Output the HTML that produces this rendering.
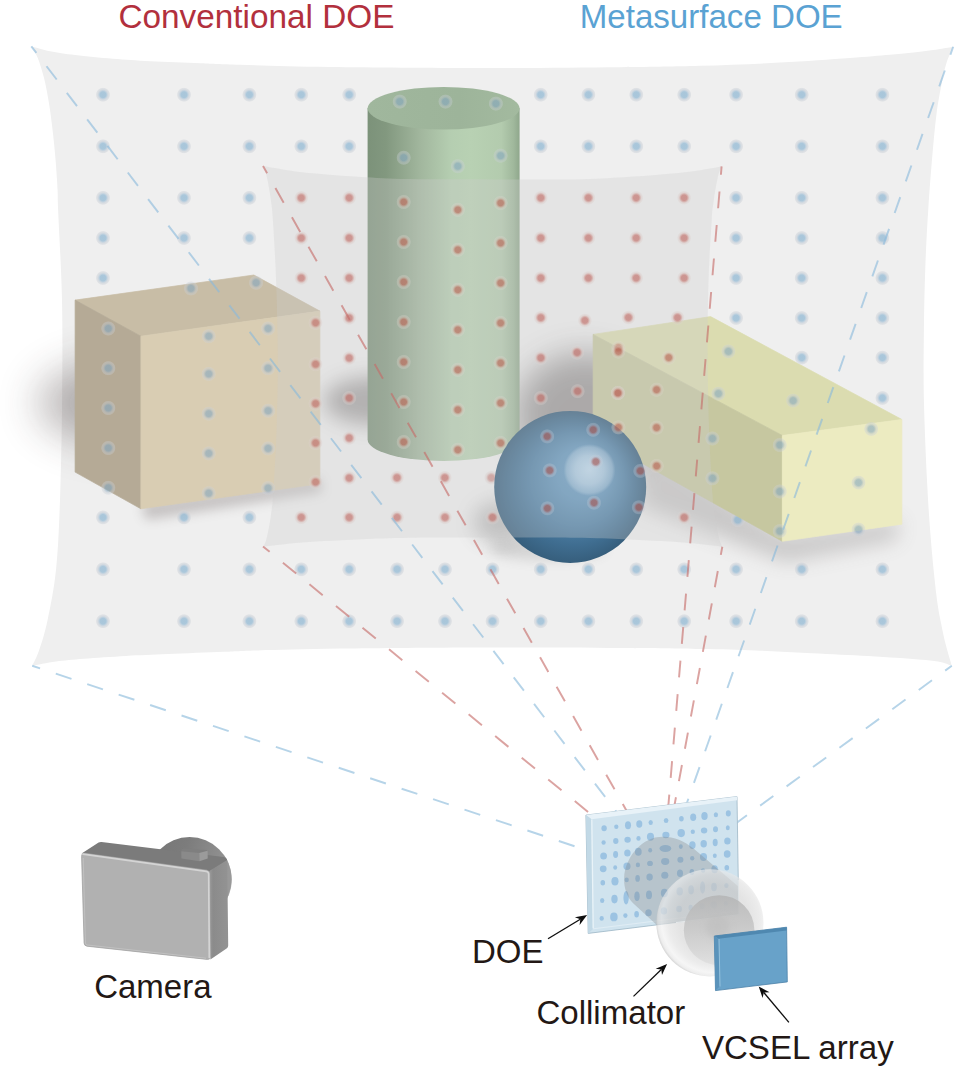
<!DOCTYPE html>
<html><head><meta charset="utf-8"><title>Structured light projection</title>
<style>
html,body{margin:0;padding:0;background:#fff;}
body{width:958px;height:1072px;overflow:hidden;font-family:"Liberation Sans",sans-serif;}
svg{display:block;position:absolute;left:0;top:0;}
text{font-family:"Liberation Sans",sans-serif;}
</style></head><body>
<svg width="958" height="1072" viewBox="0 0 958 1072">
<defs>
 <radialGradient id="gb"><stop offset="0" stop-color="#8db6d2" stop-opacity=".72"/><stop offset=".40" stop-color="#8db6d2" stop-opacity=".70"/><stop offset=".56" stop-color="#a9c2d6" stop-opacity=".62"/><stop offset=".70" stop-color="#c2cbd5" stop-opacity=".54"/><stop offset=".86" stop-color="#cbd1d8" stop-opacity=".46"/><stop offset=".94" stop-color="#d2d6dc" stop-opacity=".22"/><stop offset="1" stop-color="#dde1e6" stop-opacity="0"/></radialGradient>
 <radialGradient id="gr"><stop offset="0" stop-color="#c2726c" stop-opacity=".70"/><stop offset=".38" stop-color="#c2726c" stop-opacity=".68"/><stop offset=".56" stop-color="#d09c96" stop-opacity=".60"/><stop offset=".70" stop-color="#d8c0bc" stop-opacity=".42"/><stop offset=".86" stop-color="#dccecb" stop-opacity=".32"/><stop offset=".94" stop-color="#e2d8d6" stop-opacity=".15"/><stop offset="1" stop-color="#e8e4e4" stop-opacity="0"/></radialGradient>
 <radialGradient id="gbo"><stop offset="0" stop-color="#86a8c0" stop-opacity=".62"/><stop offset=".40" stop-color="#86a8c0" stop-opacity=".60"/><stop offset=".56" stop-color="#a4b8c8" stop-opacity=".52"/><stop offset=".70" stop-color="#c0c9d2" stop-opacity=".42"/><stop offset=".86" stop-color="#c8cfd7" stop-opacity=".36"/><stop offset=".94" stop-color="#d0d5db" stop-opacity=".18"/><stop offset="1" stop-color="#dde1e6" stop-opacity="0"/></radialGradient>
 <radialGradient id="gro"><stop offset="0" stop-color="#bb6c5c" stop-opacity=".70"/><stop offset=".38" stop-color="#bb6c5c" stop-opacity=".68"/><stop offset=".56" stop-color="#cc9a8c" stop-opacity=".54"/><stop offset=".70" stop-color="#d8c4ba" stop-opacity=".40"/><stop offset=".86" stop-color="#dcd0c8" stop-opacity=".32"/><stop offset=".94" stop-color="#e2dcd8" stop-opacity=".16"/><stop offset="1" stop-color="#e8e4e4" stop-opacity="0"/></radialGradient>
 <radialGradient id="grs"><stop offset="0" stop-color="#a85c58" stop-opacity=".66"/><stop offset=".38" stop-color="#a85c58" stop-opacity=".64"/><stop offset=".56" stop-color="#b48a90" stop-opacity=".50"/><stop offset=".70" stop-color="#c4c0cc" stop-opacity=".34"/><stop offset=".86" stop-color="#c8ccd6" stop-opacity=".28"/><stop offset=".94" stop-color="#d0d4dc" stop-opacity=".14"/><stop offset="1" stop-color="#dde1e6" stop-opacity="0"/></radialGradient>
 <circle id="rs" r="7.4" fill="url(#grs)"/>
 <circle id="bo" r="7.4" fill="url(#gbo)"/>
 <circle id="ro" r="7.4" fill="url(#gro)"/>
 <circle id="b" r="7.4" fill="url(#gb)"/>
 <circle id="r" r="7.4" fill="url(#gr)"/>
 <filter id="bl20" x="-60%" y="-100%" width="220%" height="300%"><feGaussianBlur stdDeviation="21"/></filter>
 <filter id="bl16" x="-60%" y="-60%" width="220%" height="220%"><feGaussianBlur stdDeviation="16"/></filter>
 <filter id="bl18" x="-60%" y="-80%" width="220%" height="260%"><feGaussianBlur stdDeviation="18"/></filter>
 <filter id="bl14" x="-50%" y="-50%" width="200%" height="200%"><feGaussianBlur stdDeviation="14"/></filter>
 <filter id="bl10" x="-50%" y="-50%" width="200%" height="200%"><feGaussianBlur stdDeviation="10"/></filter>
 <filter id="bl6" x="-50%" y="-50%" width="200%" height="200%"><feGaussianBlur stdDeviation="6"/></filter>
 <filter id="bl3" x="-50%" y="-50%" width="200%" height="200%"><feGaussianBlur stdDeviation="3"/></filter>
 <linearGradient id="cyl" x1="0" x2="1" y1="0" y2="0">
  <stop offset="0" stop-color="#7c927a"/><stop offset=".12" stop-color="#82987f"/><stop offset=".35" stop-color="#a2b79e"/><stop offset=".55" stop-color="#b5ceb1"/><stop offset=".68" stop-color="#b8d1b3"/><stop offset=".88" stop-color="#b3cbae"/><stop offset=".96" stop-color="#a0b89c"/><stop offset="1" stop-color="#8fa78c"/>
 </linearGradient>
 <linearGradient id="cyltop" x1="0" x2="1" y1="0" y2="0"><stop offset="0" stop-color="#a0b79d"/><stop offset=".6" stop-color="#9db49a"/><stop offset="1" stop-color="#a3ba9f"/></linearGradient>
 <radialGradient id="sph" cx="570" cy="487" r="76" fx="590" fy="466" gradientUnits="userSpaceOnUse">
  <stop offset="0" stop-color="#6fa3c9"/><stop offset=".35" stop-color="#6094bb"/><stop offset=".62" stop-color="#4d7fa5"/><stop offset=".82" stop-color="#3f6d90"/><stop offset="1" stop-color="#365e7c"/>
 </radialGradient>
 <radialGradient id="sphhl" cx="589.5" cy="470" r="26" gradientUnits="userSpaceOnUse">
  <stop offset="0" stop-color="#fff" stop-opacity=".46"/><stop offset=".55" stop-color="#fff" stop-opacity=".36"/><stop offset=".88" stop-color="#fff" stop-opacity=".2"/><stop offset="1" stop-color="#fff" stop-opacity="0"/>
 </radialGradient>
 <linearGradient id="camlens" x1="0" x2="1" y1="0" y2="0.3"><stop offset="0" stop-color="#767676"/><stop offset=".45" stop-color="#7c7c7c"/><stop offset=".8" stop-color="#8c8c8c"/><stop offset="1" stop-color="#969696"/></linearGradient>
 <linearGradient id="camside" x1="0" x2="1" y1="0" y2="0"><stop offset="0" stop-color="#9a9a9a"/><stop offset=".2" stop-color="#8b8b8b"/><stop offset="1" stop-color="#939393"/></linearGradient>
 <clipPath id="cpPlate"><polygon points="585.9,815.1 737,796.6 738.8,914.7 588.2,933.4"/></clipPath>
 <clipPath id="cpOuter"><path d="M31.3,46.3 C34.4,47.1 42.8,49.8 50.1,51.3 C57.4,52.8 64.8,53.9 75.2,55.1 C85.7,56.4 100.3,57.8 112.8,58.8 C125.3,59.8 135.8,60.5 150.4,61.3 C165.0,62.0 185.6,62.7 200.5,63.3 C215.4,63.9 218.4,64.2 240.0,64.8 C261.6,65.4 290.0,66.5 330.0,67.0 C370.0,67.5 431.7,68.0 480.0,68.0 C528.3,68.0 583.3,67.6 620.0,67.2 C656.7,66.8 673.3,66.6 700.0,65.8 C726.7,65.0 755.0,63.9 780.0,62.6 C805.0,61.3 831.7,59.3 850.0,58.0 C868.3,56.7 878.3,55.8 890.0,54.8 C901.7,53.8 911.7,52.8 920.0,51.8 C928.3,50.8 934.5,49.8 940.0,49.0 C945.5,48.2 951.0,47.2 953.2,46.8 C952.1,49.6 948.3,57.1 946.3,63.6 C944.3,70.1 942.8,77.6 941.2,86.0 C939.6,94.4 938.0,102.2 936.5,113.9 C935.0,125.6 933.7,139.6 932.3,155.9 C930.9,172.2 929.3,193.2 928.1,211.9 C926.9,230.6 926.0,248.2 925.3,267.9 C924.6,287.6 924.1,308.0 923.9,330.0 C923.7,352.0 923.3,374.3 923.9,400.0 C924.5,425.7 926.0,460.7 927.2,484.0 C928.4,507.3 929.4,521.4 930.9,540.0 C932.4,558.6 934.8,581.9 936.5,595.9 C938.2,609.9 939.6,615.5 941.2,623.9 C942.8,632.3 944.4,639.3 946.2,646.3 C948.0,653.3 950.9,662.5 951.8,665.8 C949.5,665.1 944.9,662.8 937.9,661.6 C930.9,660.4 921.6,659.7 909.9,658.8 C898.2,657.9 884.2,656.9 867.9,656.0 C851.6,655.1 830.5,654.1 811.9,653.2 C793.2,652.3 774.6,651.1 756.0,650.4 C737.4,649.7 722.7,649.4 700.0,649.0 C677.3,648.6 656.7,648.2 620.0,648.0 C583.3,647.8 526.7,647.4 480.0,647.5 C433.3,647.6 377.0,648.1 340.0,648.6 C303.0,649.1 277.4,649.9 258.0,650.4 C238.7,650.9 238.9,651.2 223.9,651.8 C208.9,652.4 184.2,653.4 167.9,654.1 C151.6,654.8 139.9,655.2 125.9,656.0 C111.9,656.8 95.6,657.9 83.9,658.8 C72.2,659.7 64.6,660.4 56.0,661.6 C47.4,662.8 36.2,665.1 32.2,665.8 C33.4,663.2 36.6,657.6 39.2,650.0 C41.8,642.4 44.8,633.3 47.6,620.0 C50.4,606.7 53.9,590.0 56.0,570.0 C58.1,550.0 59.0,528.3 60.0,500.0 C61.0,471.7 61.8,433.3 62.1,400.0 C62.4,366.7 62.7,331.8 62.0,300.0 C61.3,268.2 58.8,227.5 58.1,209.2 C57.4,190.9 58.0,198.6 57.6,190.4 C57.2,182.2 56.4,170.3 55.6,160.3 C54.8,150.3 53.7,139.9 52.6,130.3 C51.5,120.7 50.4,111.5 48.9,102.7 C47.4,93.9 45.8,85.1 43.9,77.6 C42.0,70.1 39.7,62.8 37.6,57.6 C35.5,52.4 32.4,48.2 31.3,46.3 Z"/></clipPath>
 <clipPath id="cpInner"><path d="M263,166 C264.9,166.4 269.3,167.2 274.7,168.1 C280.1,169.1 287.2,170.4 295.4,171.4 C303.5,172.4 312.6,173.2 323.6,174.2 C334.6,175.1 346.9,176.1 361.2,176.9 C375.5,177.7 387.8,178.6 409.6,179.0 C431.5,179.4 464.7,179.3 492.3,179.4 C519.9,179.5 553.1,179.8 575.0,179.4 C596.9,179.1 609.1,178.1 623.4,177.3 C637.7,176.5 650.0,175.5 661.0,174.6 C672.0,173.6 681.1,172.8 689.2,171.8 C697.4,170.8 704.5,169.5 709.9,168.5 C715.3,167.6 719.6,166.8 721.6,166.4 C721.2,167.3 720.0,169.6 719.3,171.7 C718.6,173.8 718.1,176.1 717.4,179.2 C716.7,182.3 715.9,186.4 715.2,190.5 C714.5,194.6 713.9,199.0 713.3,203.7 C712.7,208.4 712.6,205.8 711.8,218.7 C711.0,231.6 709.2,258.0 708.5,281.0 C707.8,304.0 707.5,331.4 707.6,356.6 C707.7,381.8 708.4,409.2 709.2,432.2 C710.0,455.2 711.7,481.6 712.5,494.5 C713.3,507.4 713.4,504.8 714.0,509.5 C714.6,514.2 715.2,518.6 715.9,522.7 C716.6,526.8 717.4,530.9 718.1,534.0 C718.8,537.1 719.3,539.4 720.0,541.5 C720.7,543.6 721.9,545.9 722.3,546.8 C720.3,546.5 716.0,545.9 710.6,545.3 C705.2,544.7 698.0,543.7 689.9,543.0 C681.8,542.3 672.7,541.7 661.7,541.1 C650.7,540.5 638.4,539.8 624.1,539.2 C609.8,538.6 597.6,538.0 575.7,537.7 C553.8,537.4 520.4,537.5 492.8,537.5 C465.2,537.5 431.9,537.4 410.0,537.7 C388.1,538.0 375.9,538.6 361.6,539.2 C347.3,539.8 335.0,540.5 324.0,541.1 C313.0,541.7 303.9,542.3 295.8,543.0 C287.6,543.7 280.5,544.7 275.1,545.3 C269.7,545.9 265.3,546.5 263.4,546.8 C263.8,545.9 265.0,543.6 265.7,541.5 C266.4,539.4 266.9,537.1 267.6,534.0 C268.3,530.9 269.1,526.8 269.8,522.7 C270.5,518.6 271.1,514.2 271.7,509.5 C272.3,504.8 272.4,507.4 273.2,494.5 C274.0,481.6 275.7,455.2 276.5,432.2 C277.3,409.2 277.9,381.7 277.8,356.4 C277.7,331.1 276.9,303.6 276.1,280.6 C275.3,257.6 273.6,231.2 272.8,218.3 C272.0,205.4 271.9,208.0 271.3,203.3 C270.7,198.6 270.1,194.2 269.4,190.1 C268.7,186.0 267.9,181.9 267.2,178.8 C266.5,175.7 266.0,173.4 265.3,171.3 C264.6,169.2 263.4,166.9 263.0,166.0 Z"/></clipPath>
 <clipPath id="cpRays"><path clip-rule="evenodd" d="M0,0H958V1072H0Z M585.9,815.1 L737,796.6 L738.8,914.7 L588.2,933.4Z"/></clipPath>
 <clipPath id="cpSphere"><circle cx="570.2" cy="486.9" r="76"/></clipPath>
 <radialGradient id="lensO" cx="714" cy="920" r="58.5" gradientUnits="userSpaceOnUse"><stop offset="0" stop-color="#d8d8d8"/><stop offset=".6" stop-color="#d4d4d4"/><stop offset=".78" stop-color="#e0e0e0"/><stop offset=".9" stop-color="#f0f0f0"/><stop offset=".96" stop-color="#e4e4e4"/><stop offset="1" stop-color="#bdbdbd"/></radialGradient>
 <linearGradient id="lensI" x1="0" x2="0" y1="0" y2="1"><stop offset="0" stop-color="#b2b2b2"/><stop offset=".45" stop-color="#c2c2c2"/><stop offset="1" stop-color="#dedede"/></linearGradient>
</defs>

<rect width="958" height="1072" fill="#fff"/>

<!-- outer projection screen -->
<path d="M31.3,46.3 C34.4,47.1 42.8,49.8 50.1,51.3 C57.4,52.8 64.8,53.9 75.2,55.1 C85.7,56.4 100.3,57.8 112.8,58.8 C125.3,59.8 135.8,60.5 150.4,61.3 C165.0,62.0 185.6,62.7 200.5,63.3 C215.4,63.9 218.4,64.2 240.0,64.8 C261.6,65.4 290.0,66.5 330.0,67.0 C370.0,67.5 431.7,68.0 480.0,68.0 C528.3,68.0 583.3,67.6 620.0,67.2 C656.7,66.8 673.3,66.6 700.0,65.8 C726.7,65.0 755.0,63.9 780.0,62.6 C805.0,61.3 831.7,59.3 850.0,58.0 C868.3,56.7 878.3,55.8 890.0,54.8 C901.7,53.8 911.7,52.8 920.0,51.8 C928.3,50.8 934.5,49.8 940.0,49.0 C945.5,48.2 951.0,47.2 953.2,46.8 C952.1,49.6 948.3,57.1 946.3,63.6 C944.3,70.1 942.8,77.6 941.2,86.0 C939.6,94.4 938.0,102.2 936.5,113.9 C935.0,125.6 933.7,139.6 932.3,155.9 C930.9,172.2 929.3,193.2 928.1,211.9 C926.9,230.6 926.0,248.2 925.3,267.9 C924.6,287.6 924.1,308.0 923.9,330.0 C923.7,352.0 923.3,374.3 923.9,400.0 C924.5,425.7 926.0,460.7 927.2,484.0 C928.4,507.3 929.4,521.4 930.9,540.0 C932.4,558.6 934.8,581.9 936.5,595.9 C938.2,609.9 939.6,615.5 941.2,623.9 C942.8,632.3 944.4,639.3 946.2,646.3 C948.0,653.3 950.9,662.5 951.8,665.8 C949.5,665.1 944.9,662.8 937.9,661.6 C930.9,660.4 921.6,659.7 909.9,658.8 C898.2,657.9 884.2,656.9 867.9,656.0 C851.6,655.1 830.5,654.1 811.9,653.2 C793.2,652.3 774.6,651.1 756.0,650.4 C737.4,649.7 722.7,649.4 700.0,649.0 C677.3,648.6 656.7,648.2 620.0,648.0 C583.3,647.8 526.7,647.4 480.0,647.5 C433.3,647.6 377.0,648.1 340.0,648.6 C303.0,649.1 277.4,649.9 258.0,650.4 C238.7,650.9 238.9,651.2 223.9,651.8 C208.9,652.4 184.2,653.4 167.9,654.1 C151.6,654.8 139.9,655.2 125.9,656.0 C111.9,656.8 95.6,657.9 83.9,658.8 C72.2,659.7 64.6,660.4 56.0,661.6 C47.4,662.8 36.2,665.1 32.2,665.8 C33.4,663.2 36.6,657.6 39.2,650.0 C41.8,642.4 44.8,633.3 47.6,620.0 C50.4,606.7 53.9,590.0 56.0,570.0 C58.1,550.0 59.0,528.3 60.0,500.0 C61.0,471.7 61.8,433.3 62.1,400.0 C62.4,366.7 62.7,331.8 62.0,300.0 C61.3,268.2 58.8,227.5 58.1,209.2 C57.4,190.9 58.0,198.6 57.6,190.4 C57.2,182.2 56.4,170.3 55.6,160.3 C54.8,150.3 53.7,139.9 52.6,130.3 C51.5,120.7 50.4,111.5 48.9,102.7 C47.4,93.9 45.8,85.1 43.9,77.6 C42.0,70.1 39.7,62.8 37.6,57.6 C35.5,52.4 32.4,48.2 31.3,46.3 Z" fill="#efefef"/>

<!-- wall shadows -->
<g id="shadows">
 <ellipse cx="130" cy="403" rx="92" ry="42" fill="#3c3232" opacity=".36" filter="url(#bl20)"/>
 <path d="M141,503 L320,478 L322,492 L146,520Z" fill="#5a5050" opacity=".28" filter="url(#bl6)"/>
 <ellipse cx="376" cy="401" rx="52" ry="24" fill="#3a3434" opacity=".40" filter="url(#bl10)"/>
 <ellipse cx="585" cy="415" rx="70" ry="62" fill="#3a3434" opacity=".46" filter="url(#bl16)"/>
 <path d="M640,440 L784,536 L900,520 L896,540 L786,562 L640,506Z" fill="#5a5555" opacity=".25" filter="url(#bl10)"/>
 <ellipse cx="500" cy="522" rx="26" ry="20" fill="#444" opacity=".30" filter="url(#bl10)"/>
 <ellipse cx="548" cy="549" rx="58" ry="12" fill="#555" opacity=".16" filter="url(#bl6)"/>
</g>

<!-- blue dots on screen hidden partly by objects -->
<use href="#b" x="737.8" y="519.9"/>

<!-- objects -->
<g id="box">
 <polygon points="75.1,300.1 253.8,275 319.9,311.1 140.9,336.2" fill="#c8bda6" stroke="#c8bda6" stroke-width=".7" stroke-linejoin="round"/>
 <polygon points="75.1,300.1 140.9,336.2 140.9,508.8 75.1,472.1" fill="#b5aa96" stroke="#b5aa96" stroke-width=".7" stroke-linejoin="round"/>
 <polygon points="140.9,336.2 319.9,311.1 319.9,483.8 140.9,508.8" fill="#d9cdb3" stroke="#d9cdb3" stroke-width=".7" stroke-linejoin="round"/>
</g>
<g id="cylinder">
 <path d="M367.6,108.3 V439.6 A76,21.3 0 0 0 519.6,439.6 V108.3 Z" fill="url(#cyl)"/>
 <ellipse cx="443.6" cy="108.3" rx="76" ry="21.3" fill="url(#cyltop)"/>
</g>
<g id="cuboid">
 <polygon points="593.1,334.4 710.6,316.6 901.9,419.5 782.3,435.5" fill="#dbdcb0" stroke="#dbdcb0" stroke-width=".7" stroke-linejoin="round"/>
 <polygon points="593.1,334.4 782.3,435.5 782.3,541.3 593.1,436" fill="#c6c7a0" stroke="#c6c7a0" stroke-width=".7" stroke-linejoin="round"/>
 <polygon points="782.3,435.5 901.9,419.5 901.9,524.2 782.3,541.3" fill="#ecebc1" stroke="#ecebc1" stroke-width=".7" stroke-linejoin="round"/>
</g>
<g id="sphere">
 <use href="#r" x="491.3" y="477.7"/><use href="#r" x="618.0" y="393.0"/>
 <circle cx="570.2" cy="486.9" r="76" fill="url(#sph)"/>
</g>

<!-- inner (conventional DOE) field: translucent overlay -->
<path d="M263,166 C264.9,166.4 269.3,167.2 274.7,168.1 C280.1,169.1 287.2,170.4 295.4,171.4 C303.5,172.4 312.6,173.2 323.6,174.2 C334.6,175.1 346.9,176.1 361.2,176.9 C375.5,177.7 387.8,178.6 409.6,179.0 C431.5,179.4 464.7,179.3 492.3,179.4 C519.9,179.5 553.1,179.8 575.0,179.4 C596.9,179.1 609.1,178.1 623.4,177.3 C637.7,176.5 650.0,175.5 661.0,174.6 C672.0,173.6 681.1,172.8 689.2,171.8 C697.4,170.8 704.5,169.5 709.9,168.5 C715.3,167.6 719.6,166.8 721.6,166.4 C721.2,167.3 720.0,169.6 719.3,171.7 C718.6,173.8 718.1,176.1 717.4,179.2 C716.7,182.3 715.9,186.4 715.2,190.5 C714.5,194.6 713.9,199.0 713.3,203.7 C712.7,208.4 712.6,205.8 711.8,218.7 C711.0,231.6 709.2,258.0 708.5,281.0 C707.8,304.0 707.5,331.4 707.6,356.6 C707.7,381.8 708.4,409.2 709.2,432.2 C710.0,455.2 711.7,481.6 712.5,494.5 C713.3,507.4 713.4,504.8 714.0,509.5 C714.6,514.2 715.2,518.6 715.9,522.7 C716.6,526.8 717.4,530.9 718.1,534.0 C718.8,537.1 719.3,539.4 720.0,541.5 C720.7,543.6 721.9,545.9 722.3,546.8 C720.3,546.5 716.0,545.9 710.6,545.3 C705.2,544.7 698.0,543.7 689.9,543.0 C681.8,542.3 672.7,541.7 661.7,541.1 C650.7,540.5 638.4,539.8 624.1,539.2 C609.8,538.6 597.6,538.0 575.7,537.7 C553.8,537.4 520.4,537.5 492.8,537.5 C465.2,537.5 431.9,537.4 410.0,537.7 C388.1,538.0 375.9,538.6 361.6,539.2 C347.3,539.8 335.0,540.5 324.0,541.1 C313.0,541.7 303.9,542.3 295.8,543.0 C287.6,543.7 280.5,544.7 275.1,545.3 C269.7,545.9 265.3,546.5 263.4,546.8 C263.8,545.9 265.0,543.6 265.7,541.5 C266.4,539.4 266.9,537.1 267.6,534.0 C268.3,530.9 269.1,526.8 269.8,522.7 C270.5,518.6 271.1,514.2 271.7,509.5 C272.3,504.8 272.4,507.4 273.2,494.5 C274.0,481.6 275.7,455.2 276.5,432.2 C277.3,409.2 277.9,381.7 277.8,356.4 C277.7,331.1 276.9,303.6 276.1,280.6 C275.3,257.6 273.6,231.2 272.8,218.3 C272.0,205.4 271.9,208.0 271.3,203.3 C270.7,198.6 270.1,194.2 269.4,190.1 C268.7,186.0 267.9,181.9 267.2,178.8 C266.5,175.7 266.0,173.4 265.3,171.3 C264.6,169.2 263.4,166.9 263.0,166.0 Z" fill="#cdcdcd" fill-opacity=".32"/>
<circle cx="589.5" cy="470" r="27" fill="url(#sphhl)"/>

<!-- dots -->
<g id="bluedots"><use href="#b" x="103.0" y="94.7"/><use href="#b" x="184.0" y="94.7"/><use href="#b" x="249.4" y="94.7"/><use href="#b" x="301.3" y="94.7"/><use href="#b" x="349.2" y="94.7"/><use href="#b" x="540.7" y="94.7"/><use href="#b" x="588.4" y="94.7"/><use href="#b" x="636.3" y="94.7"/><use href="#b" x="684.2" y="94.7"/><use href="#b" x="736.1" y="94.7"/><use href="#b" x="801.7" y="94.7"/><use href="#b" x="882.4" y="94.7"/><use href="#b" x="103.0" y="146.3"/><use href="#b" x="184.0" y="146.3"/><use href="#b" x="249.4" y="146.3"/><use href="#b" x="301.3" y="146.3"/><use href="#b" x="349.2" y="146.3"/><use href="#b" x="540.7" y="146.3"/><use href="#b" x="588.4" y="146.3"/><use href="#b" x="636.3" y="146.3"/><use href="#b" x="684.2" y="146.3"/><use href="#b" x="736.1" y="146.3"/><use href="#b" x="801.7" y="146.3"/><use href="#b" x="882.4" y="146.3"/><use href="#b" x="103.0" y="197.8"/><use href="#b" x="184.0" y="197.8"/><use href="#b" x="249.4" y="197.8"/><use href="#b" x="103.0" y="238.0"/><use href="#b" x="184.0" y="238.0"/><use href="#b" x="249.4" y="238.0"/><use href="#b" x="103.0" y="278.0"/><use href="#b" x="103.0" y="517.4"/><use href="#b" x="184.0" y="517.4"/><use href="#b" x="249.4" y="517.4"/><use href="#b" x="103.0" y="569.3"/><use href="#b" x="184.0" y="569.3"/><use href="#b" x="249.4" y="569.3"/><use href="#b" x="301.3" y="569.3"/><use href="#b" x="349.2" y="569.3"/><use href="#b" x="397.1" y="569.3"/><use href="#b" x="445.0" y="569.3"/><use href="#b" x="492.5" y="569.3"/><use href="#b" x="540.7" y="569.3"/><use href="#b" x="588.4" y="569.3"/><use href="#b" x="636.3" y="569.3"/><use href="#b" x="684.2" y="569.3"/><use href="#b" x="736.1" y="569.3"/><use href="#b" x="801.7" y="569.3"/><use href="#b" x="882.4" y="569.3"/><use href="#b" x="103.0" y="621.2"/><use href="#b" x="184.0" y="621.2"/><use href="#b" x="249.4" y="621.2"/><use href="#b" x="301.3" y="621.2"/><use href="#b" x="349.2" y="621.2"/><use href="#b" x="397.1" y="621.2"/><use href="#b" x="445.0" y="621.2"/><use href="#b" x="492.5" y="621.2"/><use href="#b" x="540.7" y="621.2"/><use href="#b" x="588.4" y="621.2"/><use href="#b" x="636.3" y="621.2"/><use href="#b" x="684.2" y="621.2"/><use href="#b" x="736.1" y="621.2"/><use href="#b" x="801.7" y="621.2"/><use href="#b" x="882.4" y="621.2"/><use href="#b" x="736.1" y="197.8"/><use href="#b" x="801.7" y="197.8"/><use href="#b" x="882.4" y="197.8"/><use href="#b" x="736.1" y="238.0"/><use href="#b" x="801.7" y="238.0"/><use href="#b" x="882.4" y="238.0"/><use href="#b" x="736.1" y="278.0"/><use href="#b" x="801.7" y="278.0"/><use href="#b" x="882.4" y="278.0"/><use href="#b" x="736.1" y="318.0"/><use href="#b" x="801.7" y="318.0"/><use href="#b" x="882.4" y="318.0"/><use href="#b" x="801.8" y="357.6"/><use href="#b" x="882.4" y="357.6"/><use href="#b" x="882.4" y="398.0"/><use href="#bo" x="191.0" y="288.4"/><use href="#bo" x="256.1" y="282.7"/><use href="#bo" x="108.3" y="328.5"/><use href="#bo" x="108.3" y="368.2"/><use href="#bo" x="108.3" y="408.0"/><use href="#bo" x="108.3" y="448.0"/><use href="#bo" x="108.3" y="487.8"/><use href="#bo" x="208.7" y="336.2"/><use href="#bo" x="208.7" y="373.9"/><use href="#bo" x="208.7" y="413.7"/><use href="#bo" x="208.7" y="453.4"/><use href="#bo" x="208.7" y="493.2"/><use href="#bo" x="268.1" y="328.5"/><use href="#bo" x="268.1" y="368.2"/><use href="#bo" x="268.1" y="410.7"/><use href="#bo" x="268.1" y="448.4"/><use href="#bo" x="268.1" y="488.1"/><use href="#bo" x="399.7" y="101.6"/><use href="#bo" x="445.5" y="101.6"/><use href="#bo" x="495.9" y="103.6"/><use href="#bo" x="403.7" y="157.7"/><use href="#bo" x="457.8" y="166.2"/><use href="#bo" x="500.6" y="155.7"/><use href="#bo" x="728.4" y="351.4"/><use href="#bo" x="718.4" y="393.6"/><use href="#bo" x="793.1" y="400.6"/><use href="#bo" x="712.4" y="438.5"/><use href="#bo" x="712.4" y="478.3"/><use href="#bo" x="779.8" y="445.0"/><use href="#bo" x="779.8" y="491.5"/><use href="#bo" x="779.8" y="531.1"/><use href="#bo" x="871.2" y="429.0"/><use href="#bo" x="858.5" y="482.6"/><use href="#bo" x="858.5" y="529.5"/></g>
<g id="reddots"><use href="#r" x="301.3" y="197.8"/><use href="#r" x="301.3" y="238.0"/><use href="#r" x="301.3" y="278.0"/><use href="#r" x="315.6" y="322.8"/><use href="#r" x="315.6" y="364.2"/><use href="#r" x="315.6" y="403.6"/><use href="#r" x="315.6" y="443.0"/><use href="#r" x="315.6" y="482.1"/><use href="#r" x="301.3" y="517.4"/><use href="#r" x="349.2" y="197.8"/><use href="#r" x="349.2" y="238.0"/><use href="#r" x="349.2" y="278.0"/><use href="#r" x="349.2" y="318.0"/><use href="#r" x="349.2" y="358.0"/><use href="#r" x="349.2" y="398.0"/><use href="#r" x="349.2" y="438.0"/><use href="#r" x="349.2" y="478.0"/><use href="#r" x="349.2" y="517.4"/><use href="#r" x="397.0" y="477.7"/><use href="#r" x="444.8" y="477.7"/><use href="#r" x="397.1" y="517.4"/><use href="#r" x="445.0" y="517.4"/><use href="#r" x="492.5" y="517.4"/><use href="#r" x="684.2" y="517.5"/><use href="#r" x="540.8" y="197.8"/><use href="#r" x="588.4" y="197.8"/><use href="#r" x="636.2" y="197.8"/><use href="#r" x="684.1" y="197.8"/><use href="#r" x="540.8" y="238.0"/><use href="#r" x="588.4" y="238.0"/><use href="#r" x="636.2" y="238.0"/><use href="#r" x="684.1" y="238.0"/><use href="#r" x="540.8" y="278.0"/><use href="#r" x="588.4" y="278.0"/><use href="#r" x="636.2" y="278.0"/><use href="#r" x="684.1" y="278.0"/><use href="#r" x="540.8" y="317.7"/><use href="#r" x="584.9" y="320.5"/><use href="#r" x="628.4" y="317.5"/><use href="#r" x="677.5" y="317.6"/><use href="#r" x="540.8" y="357.8"/><use href="#r" x="577.1" y="352.5"/><use href="#r" x="540.8" y="398.0"/><use href="#r" x="577.6" y="391.2"/><use href="#ro" x="403.7" y="202.0"/><use href="#ro" x="457.8" y="209.8"/><use href="#ro" x="500.6" y="203.0"/><use href="#ro" x="403.7" y="242.0"/><use href="#ro" x="457.8" y="249.8"/><use href="#ro" x="500.6" y="243.0"/><use href="#ro" x="403.7" y="282.0"/><use href="#ro" x="457.8" y="289.8"/><use href="#ro" x="500.6" y="283.0"/><use href="#ro" x="403.7" y="322.0"/><use href="#ro" x="457.8" y="329.8"/><use href="#ro" x="500.6" y="323.0"/><use href="#ro" x="403.7" y="362.0"/><use href="#ro" x="457.8" y="369.8"/><use href="#ro" x="500.6" y="363.0"/><use href="#ro" x="403.7" y="402.0"/><use href="#ro" x="457.8" y="409.8"/><use href="#ro" x="500.6" y="403.0"/><use href="#ro" x="403.7" y="442.0"/><use href="#ro" x="457.8" y="449.8"/><use href="#ro" x="500.6" y="443.0"/><use href="#ro" x="618.4" y="348.0"/><use href="#ro" x="618.4" y="351.6"/><use href="#ro" x="668.7" y="357.6"/><use href="#ro" x="617.9" y="393.0"/><use href="#ro" x="656.6" y="389.7"/><use href="#ro" x="656.6" y="427.6"/><use href="#ro" x="656.7" y="466.0"/><use href="#ro" x="618.4" y="427.4"/><use href="#rs" x="547.2" y="436.4"/><use href="#rs" x="593.2" y="429.8"/><use href="#rs" x="549.7" y="470.4"/><use href="#rs" x="595.8" y="461.7"/><use href="#rs" x="640.3" y="470.9"/><use href="#rs" x="547.4" y="508.3"/><use href="#rs" x="594.0" y="502.7"/><use href="#rs" x="638.8" y="507.3"/></g>

<!-- rays -->
<g fill="none" stroke-width="1.95" clip-path="url(#cpRays)" opacity=".62">
 <line x1="31.3" y1="46.3" x2="661.0" y2="870.0" stroke="#8abadb" stroke-dasharray="16.723 16.723" stroke-dashoffset="8.361"/>
 <line x1="953.2" y1="46.8" x2="663.3" y2="870.0" stroke="#8abadb" stroke-dasharray="16.784 16.784" stroke-dashoffset="8.392"/>
 <line x1="32.2" y1="665.8" x2="661.0" y2="875.0" stroke="#8abadb" stroke-dasharray="16.567 16.567" stroke-dashoffset="8.284"/>
 <line x1="951.8" y1="665.8" x2="661.0" y2="878.0" stroke="#8abadb" stroke-dasharray="16.363 16.363" stroke-dashoffset="8.182"/>
 <line x1="263.0" y1="166.0" x2="660.0" y2="870.0" stroke="#c66c69" stroke-dasharray="16.838 16.838" stroke-dashoffset="8.419"/>
 <line x1="721.6" y1="166.4" x2="663.0" y2="870.0" stroke="#c66c69" stroke-dasharray="16.810 16.810" stroke-dashoffset="8.405"/>
 <line x1="263.0" y1="546.4" x2="661.0" y2="871.5" stroke="#c66c69" stroke-dasharray="17.130 17.130" stroke-dashoffset="8.565"/>
 <line x1="722.3" y1="546.8" x2="662.5" y2="870.0" stroke="#c66c69" stroke-dasharray="16.434 16.434" stroke-dashoffset="8.217"/>
</g>

<!-- titles -->
<text x="118.4" y="28.2" font-size="33.35" fill="#b2303d">Conventional DOE</text>
<text x="579.8" y="28.2" font-size="33.1" fill="#5aa2d3">Metasurface DOE</text>

<!-- camera -->
<g id="camera">
 <circle cx="189.6" cy="879.1" r="42" fill="url(#camlens)"/>
 <path d="M222,852.5 A42,42 0 0 1 226.5,900 L226.5,861 Z" fill="#9a9a9a" opacity=".7"/>
 <path d="M81.6,853.6 L98.6,842.6 Q100,841.8 101.6,842 L223.5,856.9 Q227,857.6 227.2,860.4 L209.5,871.8 Z" fill="#7b7b7b"/>
 <path d="M209.3,871.1 L227.2,860 L228.2,945.6 Q228.2,947.6 226.6,948.6 L210.4,959.4 Z" fill="url(#camside)"/>
 <path d="M84.8,853.3 L206.6,870.2 Q209.6,870.7 209.7,873.6 L210.4,956.6 Q210.4,959.8 207.2,959.4 L87,946.2 Q84.2,945.8 84.1,943 L81.6,856.2 Q81.5,852.8 84.8,853.3Z" fill="#b1b1b1" stroke="#a2a2a2" stroke-width=".8"/>
 <path d="M83,854.2 L206.2,871.3 Q208.6,871.7 208.7,874 L209.3,957.5" fill="none" stroke="#d4d4d4" stroke-width="1.7" stroke-linecap="round"/>
 <path d="M83.2,858 L85.4,943 Q85.5,944.8 87.4,945 L206,958.2" fill="none" stroke="#c2c2c2" stroke-width=".9"/>
 <polygon points="181.5,849.6 184,848.6 206.8,850 207.6,851.2 199.4,853.4 181.4,851.6" fill="#7f7f7f"/>
 <polygon points="181.3,851.2 199.2,853 199.4,861.2 181.4,858.6" fill="#8a8a8a"/>
 <polygon points="199.2,853 207.6,850.8 207.7,858.6 199.4,861.2" fill="#9b9b9b"/>
</g>
<text x="94.2" y="997.8" font-size="33" fill="#231815">Camera</text>

<!-- DOE plate -->
<g id="plate">
 <polygon points="585.9,815.1 737,796.6 738.8,914.7 588.2,933.4" fill="#d0e3ee" stroke="#9db6c5" stroke-width=".8"/>
 <polygon points="585.9,815.1 737,796.6 737,800.2 591.5,819.2" fill="#e8f2f8"/>
 <polygon points="585.9,815.1 591.5,819.2 593,929 588.2,933.4" fill="#c2d9e6"/>
 <line x1="591.8" y1="819.6" x2="593.2" y2="928.6" stroke="#e9f3f8" stroke-width="1.3"/>
 <line x1="593.2" y1="928.8" x2="738.2" y2="910.8" stroke="#e4eff6" stroke-width="1" opacity=".8"/>
 <g fill="#9cc3e2"><ellipse cx="604.1" cy="828.2" rx="2.68" ry="3.03"/><ellipse cx="616.3" cy="826.7" rx="2.14" ry="2.32"/><ellipse cx="628.0" cy="825.2" rx="3.03" ry="3.93"/><ellipse cx="639.3" cy="823.9" rx="3.03" ry="3.75"/><ellipse cx="650.7" cy="822.6" rx="2.14" ry="2.50"/><ellipse cx="666.1" cy="820.5" rx="2.32" ry="2.50"/><ellipse cx="681.4" cy="818.8" rx="2.32" ry="2.68"/><ellipse cx="693.2" cy="817.3" rx="3.03" ry="3.75"/><ellipse cx="704.5" cy="816.0" rx="3.21" ry="3.93"/><ellipse cx="715.9" cy="814.7" rx="2.14" ry="2.50"/><ellipse cx="728.3" cy="813.4" rx="2.50" ry="3.03"/><ellipse cx="603.6" cy="842.5" rx="2.14" ry="2.32"/><ellipse cx="615.8" cy="841.0" rx="2.68" ry="3.03"/><ellipse cx="627.6" cy="839.7" rx="3.21" ry="3.03"/><ellipse cx="638.5" cy="838.4" rx="2.14" ry="2.32"/><ellipse cx="650.5" cy="836.7" rx="3.57" ry="3.93"/><ellipse cx="665.9" cy="835.0" rx="3.57" ry="3.21"/><ellipse cx="681.2" cy="833.1" rx="3.75" ry="4.11"/><ellipse cx="692.8" cy="831.8" rx="2.14" ry="2.32"/><ellipse cx="704.1" cy="830.5" rx="3.21" ry="3.03"/><ellipse cx="715.5" cy="829.2" rx="2.50" ry="3.03"/><ellipse cx="727.8" cy="827.8" rx="1.96" ry="2.50"/><ellipse cx="603.6" cy="856.0" rx="3.39" ry="3.57"/><ellipse cx="615.6" cy="854.5" rx="2.50" ry="3.39"/><ellipse cx="627.4" cy="853.0" rx="3.21" ry="3.57"/><ellipse cx="638.3" cy="851.7" rx="3.39" ry="3.93"/><ellipse cx="650.2" cy="850.2" rx="1.96" ry="2.32"/><ellipse cx="665.4" cy="848.5" rx="5.89" ry="3.39"/><ellipse cx="680.8" cy="846.6" rx="1.96" ry="2.32"/><ellipse cx="692.4" cy="845.1" rx="3.21" ry="3.93"/><ellipse cx="703.7" cy="843.8" rx="3.21" ry="3.75"/><ellipse cx="715.2" cy="842.5" rx="2.50" ry="3.75"/><ellipse cx="727.4" cy="841.0" rx="3.21" ry="3.57"/><ellipse cx="603.2" cy="868.8" rx="3.39" ry="3.39"/><ellipse cx="615.2" cy="867.5" rx="1.96" ry="2.32"/><ellipse cx="627.0" cy="866.2" rx="3.57" ry="3.75"/><ellipse cx="637.9" cy="864.9" rx="2.14" ry="2.32"/><ellipse cx="650.0" cy="863.4" rx="2.86" ry="2.68"/><ellipse cx="665.2" cy="861.5" rx="4.11" ry="3.39"/><ellipse cx="680.4" cy="859.8" rx="3.03" ry="3.03"/><ellipse cx="692.2" cy="858.3" rx="2.14" ry="2.32"/><ellipse cx="703.5" cy="857.0" rx="3.57" ry="3.93"/><ellipse cx="714.8" cy="855.7" rx="1.96" ry="2.32"/><ellipse cx="727.2" cy="854.1" rx="3.39" ry="3.75"/><ellipse cx="602.8" cy="882.7" rx="2.32" ry="2.68"/><ellipse cx="615.0" cy="881.2" rx="3.57" ry="4.28"/><ellipse cx="626.7" cy="879.9" rx="2.14" ry="2.32"/><ellipse cx="637.6" cy="878.4" rx="2.32" ry="3.39"/><ellipse cx="649.6" cy="877.1" rx="3.21" ry="3.57"/><ellipse cx="664.8" cy="875.2" rx="3.57" ry="3.57"/><ellipse cx="680.0" cy="873.3" rx="3.03" ry="3.75"/><ellipse cx="691.9" cy="872.0" rx="2.32" ry="3.03"/><ellipse cx="703.1" cy="870.5" rx="2.14" ry="2.32"/><ellipse cx="714.6" cy="869.2" rx="3.21" ry="3.93"/><ellipse cx="726.8" cy="867.7" rx="2.32" ry="2.68"/><ellipse cx="602.2" cy="900.6" rx="2.14" ry="2.50"/><ellipse cx="614.5" cy="899.1" rx="3.21" ry="4.28"/><ellipse cx="626.1" cy="897.7" rx="2.68" ry="6.78"/><ellipse cx="637.0" cy="896.2" rx="2.68" ry="4.82"/><ellipse cx="649.0" cy="894.9" rx="3.03" ry="4.28"/><ellipse cx="664.4" cy="893.0" rx="3.57" ry="4.28"/><ellipse cx="679.7" cy="891.4" rx="3.21" ry="4.11"/><ellipse cx="691.1" cy="889.8" rx="2.86" ry="4.64"/><ellipse cx="702.6" cy="887.4" rx="2.50" ry="6.25"/><ellipse cx="714.0" cy="887.0" rx="2.86" ry="4.28"/><ellipse cx="726.4" cy="885.5" rx="2.14" ry="2.50"/><ellipse cx="601.7" cy="918.4" rx="2.14" ry="2.32"/><ellipse cx="613.9" cy="916.9" rx="3.75" ry="4.46"/><ellipse cx="625.4" cy="915.6" rx="2.14" ry="2.32"/><ellipse cx="636.6" cy="914.3" rx="2.32" ry="3.21"/><ellipse cx="648.5" cy="912.8" rx="3.21" ry="3.57"/><ellipse cx="663.9" cy="910.9" rx="3.21" ry="3.57"/><ellipse cx="679.1" cy="909.0" rx="2.86" ry="3.21"/><ellipse cx="690.7" cy="907.7" rx="2.14" ry="2.86"/><ellipse cx="702.0" cy="906.2" rx="2.50" ry="2.86"/><ellipse cx="713.7" cy="904.7" rx="3.21" ry="3.57"/><ellipse cx="725.9" cy="903.4" rx="2.14" ry="2.32"/></g>
 <path clip-path="url(#cpPlate)" d="M660,928 L633.4,903.5 C626,896 623.5,886 624.2,876.8 C625,862 636,843 655,837.6 C668,834.5 682,839 693.5,848.4 L745,892 L745,930 Z" fill="#7d7d7d" fill-opacity=".30"/>
</g>

<!-- collimator lens -->
<g id="lens">
 <circle cx="709.9" cy="922.8" r="53.6" fill="url(#lensO)" fill-opacity=".64"/>
 <line x1="676" y1="922.5" x2="738.8" y2="914.7" stroke="#f4f6f7" stroke-width="1" opacity=".7"/>
 <line x1="738.8" y1="914.7" x2="738.3" y2="880" stroke="#f4f6f7" stroke-width="1" opacity=".5"/>
 <ellipse cx="719.1" cy="930.2" rx="35.3" ry="35" fill="url(#lensI)" fill-opacity=".78"/>
 <circle cx="717.7" cy="927" r="12" fill="#bcbcbc" opacity=".5" filter="url(#bl3)"/>
</g>

<!-- VCSEL -->
<g id="vcsel">
 <polygon points="714.3,936 786.6,927.2 787.3,981.9 715.5,990.6" fill="#68a2c9" stroke="#4c82a8" stroke-width=".8"/>
 <polygon points="714.3,936 786.6,927.2 786.6,930.4 718.6,938.8" fill="#4f88b0"/>
 <polygon points="714.3,936 718.6,938.8 719.6,986.5 715.5,990.6" fill="#5a93bb"/>
 <line x1="719" y1="939" x2="720" y2="986.5" stroke="#9cc6e0" stroke-width=".9"/>
</g>

<!-- labels -->
<text x="472" y="963.3" font-size="33" fill="#231815">DOE</text>
<text x="536.4" y="1024.4" font-size="33.1" fill="#231815">Collimator</text>
<text x="701.9" y="1058.6" font-size="33.1" fill="#231815">VCSEL array</text>
<g><line x1="548.0" y1="938.7" x2="580.3" y2="919.2" stroke="#0e0e0e" stroke-width="1.3"/><polygon points="587.1,915.0 579.6,924.9 580.3,919.2 574.9,917.2" fill="#0e0e0e"/><line x1="633.5" y1="996.4" x2="661.3" y2="969.5" stroke="#0e0e0e" stroke-width="1.3"/><polygon points="667.1,963.9 662.0,975.1 661.3,969.5 655.7,968.7" fill="#0e0e0e"/><line x1="788.9" y1="1022.4" x2="763.8" y2="992.5" stroke="#0e0e0e" stroke-width="1.3"/><polygon points="758.7,986.4 769.5,992.3 763.8,992.5 762.6,998.1" fill="#0e0e0e"/></g>
</svg>
</body></html>
